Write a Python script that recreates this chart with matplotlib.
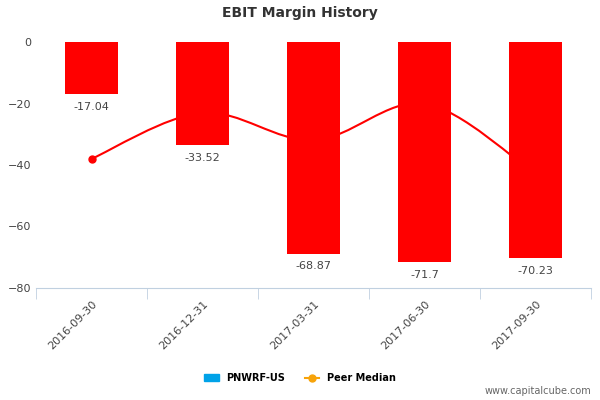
import matplotlib
matplotlib.use("Agg")
import matplotlib.pyplot as plt
from matplotlib.path import Path
from matplotlib.patches import PathPatch
import matplotlib.patches as mpatches
from matplotlib.lines import Line2D

dates = ['2016-09-30', '2016-12-31', '2017-03-31', '2017-06-30', '2017-09-30']
ebit_margin = [-17.04, -33.52, -68.87, -71.7, -70.23]
peer_median = [-38, -23, -32, -20, -43]

fig, ax = plt.subplots(figsize=(6, 4), dpi=100)
fig.subplots_adjust(left=0.06, right=0.985, top=0.895, bottom=0.28)
x = list(range(len(dates)))

# smooth peer median curve (Catmull-Rom -> Bezier)
verts = [(x[0], peer_median[0])]
codes = [Path.MOVETO]
for i in range(len(x) - 1):
    p0 = (x[max(i - 1, 0)], peer_median[max(i - 1, 0)])
    p1 = (x[i], peer_median[i])
    p2 = (x[i + 1], peer_median[i + 1])
    p3 = (x[min(i + 2, len(x) - 1)], peer_median[min(i + 2, len(x) - 1)])
    c1 = (p1[0] + (p2[0] - p0[0]) / 6, p1[1] + (p2[1] - p0[1]) / 6)
    c2 = (p2[0] - (p3[0] - p1[0]) / 6, p2[1] - (p3[1] - p1[1]) / 6)
    verts += [c1, c2, p2]
    codes += [Path.CURVE4] * 3
ax.add_patch(PathPatch(Path(verts, codes), fill=False, edgecolor='#ff0000', lw=1.5, zorder=1))
ax.plot(x[0], peer_median[0], 'o', color='#ff0000', ms=5, zorder=1)

ax.bar(x, ebit_margin, width=0.48, color='#ff0000', zorder=2)
for xi, v in zip(x, ebit_margin):
    ax.text(xi, v - 2.5, f'{v:g}', ha='center', va='top', fontsize=8, color='#444444')

ax.set_xlim(-0.5, 4.5)
ax.set_ylim(-80, 0)
ax.set_yticks([0, -20, -40, -60, -80])
ax.tick_params(axis='y', length=0, labelsize=8, colors='#444444')
ax.set_xticks(x)
ax.set_xticklabels(dates, rotation=45, ha='right', rotation_mode='anchor', fontsize=8, color='#444444')
ax.set_xticks([-0.5, 0.5, 1.5, 2.5, 3.5, 4.5], minor=True)
ax.tick_params(axis='x', which='major', length=0, pad=8)
ax.tick_params(axis='x', which='minor', length=8, color='#c0d0e0')
for s in ['top', 'right', 'left']:
    ax.spines[s].set_visible(False)
ax.spines['bottom'].set_color('#c0d0e0')

fig.suptitle('EBIT Margin History', y=0.985, fontsize=10, fontweight='bold', color='#333333')

handles = [mpatches.Patch(color='#00a2e8', label='PNWRF-US'),
           Line2D([0], [0], color='#f7a30a', marker='o', ms=5, label='Peer Median')]
fig.legend(handles=handles, loc='lower center', bbox_to_anchor=(0.5, 0.02), ncol=2,
           frameon=False, prop={'size': 7, 'weight': 'bold'}, handlelength=1.5)
fig.text(0.985, 0.015, 'www.capitalcube.com', ha='right', fontsize=7, color='#666666')

fig.savefig('out.png', dpi=100)
